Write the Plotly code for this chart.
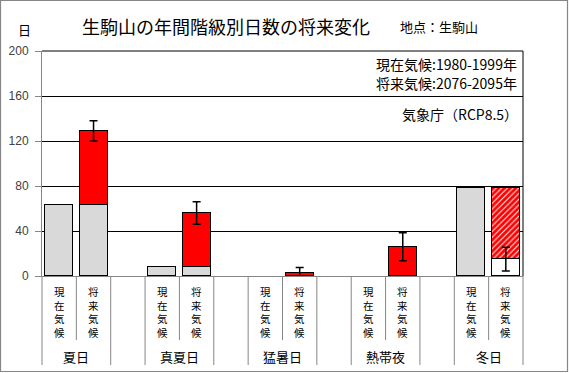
import plotly.graph_objects as go

# ---- data ----
groups = ["夏日", "真夏日", "猛暑日", "熱帯夜", "冬日"]
sub_labels = ["現在気候", "将来気候"]
present_days = [63, 8, 0, 0, 78]
future_days = [129, 56, 3, 26, 15]
future_err = [9, 10, 4.5, 12.5, 10.5]
y_ticks = [0, 40, 80, 120, 160, 200]

W, H = 569, 373
L, R, T, B = 42, 46, 51, 97
PW, PH = W - L - R, H - T - B
n_slots = len(groups) * 3 - 1


def px2x(px):
    return (px - L) / PW


def py2y(py):
    return (H - B - py) / PH


GRAY = "#d9d9d9"
RED = "#ff0000"
AX = "#868686"
FONT = "Noto Sans CJK JP"

x_present = [3 * i for i in range(len(groups))]
x_future = [3 * i + 1 for i in range(len(groups))]
base_vals = [min(p, f) for p, f in zip(present_days, future_days)]
base_cols = [GRAY if f >= p else "white" for p, f in zip(present_days, future_days)]
change_vals = [abs(f - p) for p, f in zip(present_days, future_days)]
change_shapes = ["" if f >= p else "/" for p, f in zip(present_days, future_days)]

bw = 0.815
fig = go.Figure()
fig.add_trace(go.Bar(
    x=x_present, y=present_days, width=bw,
    marker=dict(color=GRAY, line=dict(color="black", width=[1 if v > 0 else 0 for v in present_days])),
    hoverinfo="skip", showlegend=False))
fig.add_trace(go.Bar(
    x=x_future, y=base_vals, width=bw,
    marker=dict(color=base_cols, line=dict(color="black", width=[1 if v > 0 else 0 for v in base_vals])),
    hoverinfo="skip", showlegend=False))
fig.add_trace(go.Bar(
    x=x_future, y=change_vals, width=bw,
    marker=dict(color=RED, line=dict(color="black", width=[1 if v > 0 else 0 for v in change_vals]),
                pattern=dict(shape=change_shapes, bgcolor="white", fgcolor=RED, fgopacity=1,
                             size=4, solidity=0.75)),
    hoverinfo="skip", showlegend=False))
fig.add_trace(go.Scatter(
    x=x_future, y=future_days, mode="markers",
    marker=dict(size=1, opacity=0),
    error_y=dict(type="data", array=future_err, visible=True, color="black", thickness=1.5, width=4),
    hoverinfo="skip", showlegend=False))

shapes = []
# right border of plot area
shapes.append(dict(type="line", xref="paper", yref="paper", x0=1, x1=1, y0=0, y1=1,
                   line=dict(color="black", width=1)))
# top gridline
shapes.append(dict(type="line", xref="paper", yref="paper", x0=0, x1=1, y0=1, y1=1,
                   line=dict(color="black", width=1)))
# category separators
for k in range(n_slots + 1):
    short = (k % 3 == 1)
    shapes.append(dict(type="line", xref="paper", yref="paper",
                       x0=k / n_slots, x1=k / n_slots, y0=0,
                       y1=py2y(340) if short else py2y(365),
                       line=dict(color=AX, width=1)))
# outer frame
shapes.append(dict(type="rect", xref="paper", yref="paper",
                   x0=px2x(0.5), x1=px2x(W - 1.5), y0=py2y(H - 1.5), y1=py2y(0.5),
                   line=dict(color=AX, width=1.2), fillcolor="rgba(0,0,0,0)"))

ann = []
for i, g in enumerate(groups):
    ann.append(dict(x=3 * i + 0.5, y=py2y(356), xref="x", yref="paper", text=g, showarrow=False,
                    font=dict(family=FONT, size=13, color="black"), xanchor="center", yanchor="middle"))
    for j, lab in enumerate(sub_labels):
        ann.append(dict(x=3 * i + j, y=py2y(312), xref="x", yref="paper", text="<br>".join(lab),
                        showarrow=False, font=dict(family=FONT, size=10.5, color="black"),
                        xanchor="center", yanchor="middle"))

ann.append(dict(x=px2x(226), y=py2y(26), xref="paper", yref="paper", text="生駒山の年間階級別日数の将来変化",
                showarrow=False, font=dict(family=FONT, size=18, color="black"), xanchor="center", yanchor="middle"))
ann.append(dict(x=px2x(439), y=py2y(27), xref="paper", yref="paper", text="地点：生駒山",
                showarrow=False, font=dict(family=FONT, size=13, color="black"), xanchor="center", yanchor="middle"))
ann.append(dict(x=px2x(24), y=py2y(29), xref="paper", yref="paper", text="日",
                showarrow=False, font=dict(family=FONT, size=13, color="black"), xanchor="center", yanchor="middle"))
ann.append(dict(x=px2x(519), y=py2y(64), xref="paper", yref="paper", text="現在気候:1980-1999年",
                showarrow=False, font=dict(family=FONT, size=14, color="black"), xanchor="right", yanchor="middle"))
ann.append(dict(x=px2x(519), y=py2y(83), xref="paper", yref="paper", text="将来気候:2076-2095年",
                showarrow=False, font=dict(family=FONT, size=14, color="black"), xanchor="right", yanchor="middle"))
ann.append(dict(x=px2x(520), y=py2y(114), xref="paper", yref="paper", text="気象庁（RCP8.5）",
                showarrow=False, font=dict(family=FONT, size=14, color="black"), xanchor="right", yanchor="middle"))

fig.update_layout(
    width=W, height=H, margin=dict(l=L, r=R, t=T, b=B, autoexpand=False),
    paper_bgcolor="white", plot_bgcolor="white", barmode="stack", bargap=0,
    shapes=shapes, annotations=ann,
    xaxis=dict(range=[-0.5, n_slots - 0.5], showgrid=False, zeroline=False, showticklabels=False,
               showline=True, linecolor=AX, linewidth=1, ticks=""),
    yaxis=dict(range=[0, 200], tickvals=y_ticks, showgrid=True, gridcolor="black", gridwidth=1,
               zeroline=False, showline=True, linecolor=AX, linewidth=1, ticks="outside", ticklen=6,
               tickcolor=AX, tickfont=dict(family="Liberation Sans", size=12, color="#404040"),
               ticklabelstandoff=4),
)
fig.write_html("out.html", config={"displayModeBar": False},
               post_script="document.body.style.margin='0';")
